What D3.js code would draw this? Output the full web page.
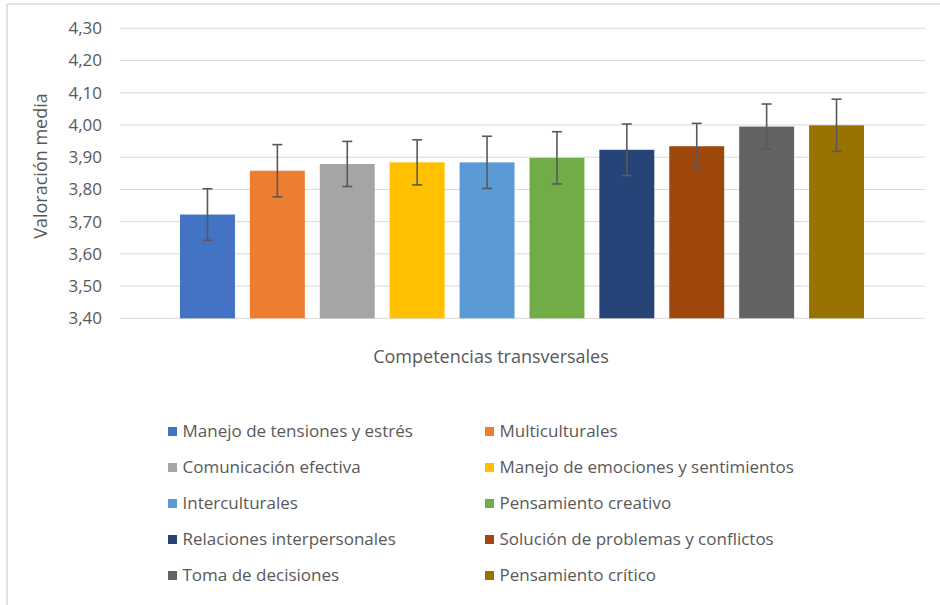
<!DOCTYPE html>
<html><head><meta charset="utf-8">
<script src="https://cdn.jsdelivr.net/npm/d3@7"></script>
<style>
html,body{margin:0;padding:0;background:#fff;}
svg{display:block;font-family:"Open Sans",sans-serif;}
</style></head>
<body><svg id="c" width="940" height="605"></svg>
<script>
const categories = ["Manejo de tensiones y estrés","Multiculturales","Comunicación efectiva","Manejo de emociones y sentimientos","Interculturales","Pensamiento creativo","Relaciones interpersonales","Solución de problemas y conflictos","Toma de decisiones","Pensamiento crítico"];
const means = [3.722,3.858,3.879,3.884,3.884,3.898,3.923,3.934,3.995,3.999];
const errors = [0.080,0.081,0.070,0.070,0.081,0.081,0.080,0.071,0.070,0.081];
const colors = ["#4472C4","#ED7D31","#A5A5A5","#FFC000","#5B9BD5","#70AD47","#264478","#9E480E","#636363","#997300"];
const yTicks = [3.40,3.50,3.60,3.70,3.80,3.90,4.00,4.10,4.20,4.30];
const yTitle = "Valoración media";
const xTitle = "Competencias transversales";

const svg = d3.select("#c");
const txt = "#595959";

// outer border
svg.append("line").attr("x1",7).attr("x2",940).attr("y1",4).attr("y2",4).attr("stroke","#d9d9d9").attr("stroke-width",1.5);
svg.append("line").attr("x1",7).attr("x2",7).attr("y1",4).attr("y2",605).attr("stroke","#d9d9d9").attr("stroke-width",1.5);

const y = d3.scaleLinear().domain([3.40,4.30]).range([318.3,28.3]);
const x = d3.scaleBand().domain(categories).range([180,864]).paddingInner(0.214).paddingOuter(0);

const fmt = v => d3.format(".2f")(v).replace(".", ",");

// gridlines
svg.append("g").selectAll("line").data(yTicks).join("line")
  .attr("x1",120).attr("x2",925)
  .attr("y1",d=>y(d)).attr("y2",d=>y(d))
  .attr("stroke","#d9d9d9").attr("stroke-width",1);

// y axis labels
const yAxis = d3.axisLeft(y).tickValues(yTicks).tickFormat(fmt).tickSize(0).tickPadding(0);
const ga = svg.append("g").attr("transform","translate(102,0)").call(yAxis);
ga.select(".domain").remove();
ga.selectAll("text").attr("fill",txt).attr("font-size",17).attr("font-family","'Open Sans',sans-serif");

// bars
svg.append("g").selectAll("rect").data(categories).join("rect")
  .attr("x",d=>x(d)).attr("width",x.bandwidth())
  .attr("y",(d,i)=>y(means[i])).attr("height",(d,i)=>y(3.40)-y(means[i]))
  .attr("fill",(d,i)=>colors[i]);

// error bars
const eg = svg.append("g").attr("stroke","#595959").attr("stroke-width",1.6);
categories.forEach((c,i)=>{
  const cx = x(c)+x.bandwidth()/2;
  const t = y(means[i]+errors[i]), b = y(means[i]-errors[i]);
  eg.append("line").attr("x1",cx).attr("x2",cx).attr("y1",t).attr("y2",b);
  eg.append("line").attr("x1",cx-5).attr("x2",cx+5).attr("y1",t).attr("y2",t);
  eg.append("line").attr("x1",cx-5).attr("x2",cx+5).attr("y1",b).attr("y2",b);
});

// axis titles
svg.append("text").attr("transform","translate(47,166) rotate(-90)")
  .attr("text-anchor","middle").attr("fill",txt).attr("font-size",18).text(yTitle);
svg.append("text").attr("x",491).attr("y",363)
  .attr("text-anchor","middle").attr("fill",txt).attr("font-size",18).text(xTitle);

// legend
const colX = [168,485];
const rowY = [431.5,467.5,503.5,539.5,575.5];
const lg = svg.append("g");
categories.forEach((c,i)=>{
  const cx = colX[i%2], cy = rowY[Math.floor(i/2)];
  lg.append("rect").attr("x",cx).attr("y",cy-4.5).attr("width",9).attr("height",9).attr("fill",colors[i]);
  lg.append("text").attr("x",cx+14.5).attr("y",cy).attr("dy","0.35em")
    .attr("fill",txt).attr("font-size",17).text(c);
});
</script></body></html>
